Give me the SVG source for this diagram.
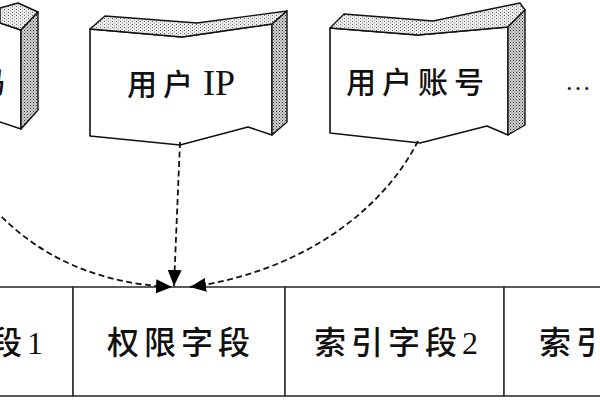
<svg xmlns="http://www.w3.org/2000/svg" width="600" height="400" viewBox="0 0 600 400">
<defs>
<pattern id="side" width="3" height="3" patternUnits="userSpaceOnUse"><rect width="3" height="3" fill="#cfcfcf"/><rect width="1" height="1" fill="#333"/><rect x="1.5" y="1.5" width="1" height="1" fill="#666"/></pattern>
<pattern id="topf" width="4" height="3" patternUnits="userSpaceOnUse"><rect width="4" height="3" fill="#ececec"/><rect width="1" height="1" fill="#666"/><rect x="2" y="1.5" width="1" height="1" fill="#999"/></pattern>
<marker id="arr" viewBox="0 0 16 14" refX="16" refY="7" markerWidth="16" markerHeight="14" markerUnits="userSpaceOnUse" orient="auto"><path d="M0,0 L16,7 L0,14 Z" fill="#000"/></marker>
</defs>
<style>
.front{fill:#fff;stroke:#111;stroke-width:1.6;stroke-linejoin:round}
.side{fill:url(#side);stroke:#111;stroke-width:1.4;stroke-linejoin:round}
.top{fill:url(#topf);stroke:#111;stroke-width:1.4;stroke-linejoin:round}
.lbl{font-family:"Liberation Serif","Noto Sans CJK SC",serif;font-size:30px;font-weight:500;fill:#111;letter-spacing:6px}
.lat{letter-spacing:0px;font-size:36px;font-weight:400}
.fld{font-family:"Liberation Serif","Noto Sans CJK SC",serif;font-size:32px;font-weight:500;fill:#111;letter-spacing:5px}
.cell{fill:#fff;stroke:#333;stroke-width:1.6}
.conn{fill:none;stroke:#111;stroke-width:1.8;stroke-dasharray:6 3.5;marker-end:url(#arr)}
</style>
<rect width="600" height="400" fill="#fff"/>

<g id="node-left">
<path class="front" d="M-160,28 L0,23 L21,30 L21,129 L0,122 L-160,132 Z"/>
<path class="top" d="M0,23 L0,8 L18,3 L38,12 L21,30 Z"/>
<path class="side" d="M21,30 L38,12 L38,110 L21,129 Z"/>
<text class="lbl" x="-25" y="93">码</text>
</g>

<g id="node-ip">
<path class="front" d="M90,29 L182,37 L272,24 L272,135 L248,127 L180,145 L90,136 Z"/>
<path class="top" d="M90,29 L105,16 L197,23 L287,11 L272,24 L182,37 Z"/>
<path class="side" d="M272,24 L287,11 L287,122 L272,135 Z"/>
<text class="lbl" x="127" y="95">用户<tspan class="lat" x="203">IP</tspan></text>
</g>

<g id="node-account">
<path class="front" d="M330,28 L418,35 L508,27 L508,135 L487,126 L420,143 L330,133 Z"/>
<path class="top" d="M330,28 L344,14 L433,21 L520,3 L525,10 L508,27 L418,35 Z"/>
<path class="side" d="M508,27 L525,10 L525,125 L508,135 Z"/>
<text class="lbl" x="346" y="93">用户账号</text>
</g>

<g id="more">
<text x="565" y="90" font-family="Liberation Serif, serif" font-size="26" fill="#111">…</text>
</g>

<g id="field-1">
<rect class="cell" x="-150" y="287" width="223" height="109"/>
<text class="fld" x="-10" y="354">段1</text>
</g>
<g id="field-perm">
<rect class="cell" x="73" y="287" width="212" height="109"/>
<text class="fld" x="107" y="354">权限字段</text>
</g>
<g id="field-2">
<rect class="cell" x="285" y="287" width="219" height="109"/>
<text class="fld" x="314" y="354">索引字段2</text>
</g>
<g id="field-3">
<rect class="cell" x="504" y="287" width="200" height="109"/>
<text class="fld" x="539" y="354">索引</text>
</g>

<g id="connectors">
<path class="conn" d="M180,142 L174,286"/>
<path class="conn" d="M-5,210 C40,258 100,284 172,287"/>
<path class="conn" d="M418,141 C382,212 300,272 190,287"/>
</g>
</svg>
